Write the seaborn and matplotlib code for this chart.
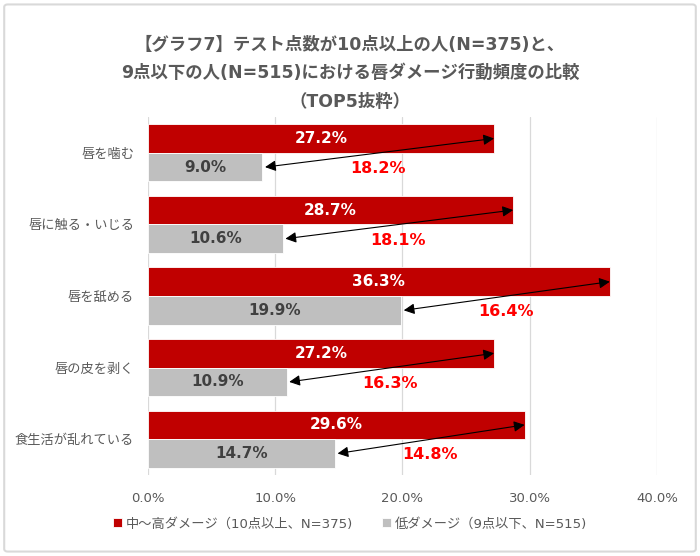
import pandas as pd
import matplotlib
matplotlib.use("Agg")
import matplotlib.pyplot as plt
import seaborn as sns
from matplotlib.patches import FancyBboxPatch

# データ
categories = ['唇を噛む', '唇に触る・いじる', '唇を舐める', '唇の皮を剥く', '食生活が乱れている']
high_vals = [27.2, 28.7, 36.3, 27.2, 29.6]
low_vals = [9.0, 10.6, 19.9, 10.9, 14.7]
diff_vals = [18.2, 18.1, 16.4, 16.3, 14.8]
series = ['中～高ダメージ（10点以上、N=375)', '低ダメージ（9点以下、N=515)']
xticks = [0, 10, 20, 30, 40]

df = pd.DataFrame({
    'item': categories * 2,
    'value': high_vals + low_vals,
    'group': [series[0]] * len(categories) + [series[1]] * len(categories),
})

sns.set_theme(style='white')
# 英数字はDejaVu（Meiryo風）、日本語はNoto CJK
plt.rcParams['font.family'] = ['DejaVu Sans', 'Noto Sans CJK JP']

fig = plt.figure(figsize=(7, 5.56), dpi=100)
ax = fig.add_axes([0.2114, 0.1457, 0.7271, 0.6439])

sns.barplot(
    data=df, x='value', y='item', hue='group', orient='h',
    palette=['#C00000', '#BFBFBF'], width=0.8, saturation=1,
    edgecolor='white', linewidth=0.6, ax=ax
)

ax.set_xlim(0, 40)
ax.set_xticks(xticks)
ax.set_xticklabels([f'{t:.1f}%' for t in xticks], color='#595959', fontsize=9.5)
ax.tick_params(axis='y', labelsize=9.5, labelcolor='#595959', length=0, pad=10)
ax.tick_params(axis='x', length=0, pad=12)
for lbl in ax.get_yticklabels():
    lbl.set_family(['Noto Sans CJK JP'])
ax.set_xlabel('')
ax.set_ylabel('')
ax.grid(axis='x', color='#D9D9D9', lw=0.9)
ax.set_axisbelow(True)
for s in ax.spines.values():
    s.set_visible(False)

# 値ラベル・矢印・差分
for i, (h, l, d) in enumerate(zip(high_vals, low_vals, diff_vals)):
    ax.text(h / 2, i - 0.2, f'{h:.1f}%', ha='center', va='center',
            color='white', fontsize=11, fontweight='bold')
    ax.text(l / 2, i + 0.2, f'{l:.1f}%', ha='center', va='center',
            color='#404040', fontsize=11, fontweight='bold')
    ax.annotate('', xy=(h, i - 0.2), xytext=(l + 0.2, i + 0.2),
                arrowprops=dict(arrowstyle='<|-|>', color='black', lw=0.8,
                                mutation_scale=16, shrinkA=0, shrinkB=0))
    ax.text((h + l) / 2, i + 0.22, f'{d:.1f}%', ha='center', va='center',
            color='#FF0000', fontsize=11.5, fontweight='bold')

ax.legend(loc='upper center', bbox_to_anchor=(0.5 - (0.2114 + 0.7271 / 2 - 0.5) / 0.7271, -0.085),
          ncol=2, frameon=False, fontsize=9.5, handlelength=0.7, handleheight=0.7,
          handletextpad=0.3, columnspacing=2.2, labelcolor='#595959')

# タイトル
title_kw = dict(ha='center', va='center', fontsize=12.5, fontweight='bold', color='#595959')
fig.text(0.5, 1 - 45 / 556, '【グラフ7】テスト点数が10点以上の人(N=375)と、', **title_kw)
fig.text(0.5, 1 - 73 / 556, '9点以下の人(N=515)における唇ダメージ行動頻度の比較', **title_kw)
fig.text(0.5, 1 - 102 / 556, '（TOP5抜粋）', **title_kw)

fig.patches.append(FancyBboxPatch((0.006, 0.008), 0.988, 0.984, boxstyle='round,pad=0,rounding_size=0.005',
                                  transform=fig.transFigure, fill=False, edgecolor='#D9D9D9', lw=1.5))

fig.savefig('out.png', dpi=100)
